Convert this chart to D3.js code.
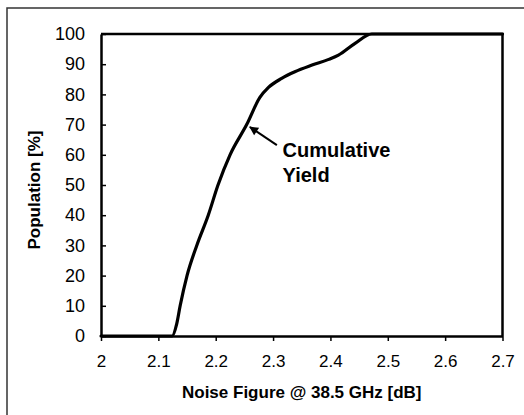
<!DOCTYPE html>
<html>
<head>
<meta charset="utf-8">
<script src="https://cdn.jsdelivr.net/npm/d3@7"></script>
<style>
  html, body { margin: 0; padding: 0; background: #fff; }
  svg { display: block; font-family: "Liberation Sans", Arial, Helvetica, sans-serif; }
</style>
</head>
<body>
<svg id="chart" width="524" height="415"></svg>
<script>
// ---- data ----
const noiseFigure = [2.0, 2.124, 2.132, 2.138, 2.150, 2.167, 2.187, 2.204, 2.225, 2.254, 2.277, 2.292, 2.315, 2.338, 2.368, 2.397, 2.414, 2.443, 2.472, 2.7];
const population  = [0,   0,     4,     10,    20,    30,    40,    50,    60,    70,    79,    82.3,  85.3,  87.5,  89.7,  91.6,  93.0,  96.9,  100,   100];
const xTicks = [2, 2.1, 2.2, 2.3, 2.4, 2.5, 2.6, 2.7];
const yTicks = [0, 10, 20, 30, 40, 50, 60, 70, 80, 90, 100];
const xTitle = "Noise Figure @ 38.5 GHz [dB]";
const yTitle = "Population [%]";
const annoLines = ["Cumulative", "Yield"];
const annoText = [2.3166, 59.3];     // text anchor (data units)
const annoArrowTip = [2.2596, 69.2];  // arrow tip (data units)
const annoArrowTail = [2.3066, 63.2]; // arrow tail (data units)

// ---- layout ----
const svg = d3.select("#chart");
const W = 524, H = 415;
const plot = { left: 101, right: 502.5, top: 34, bottom: 336 };

// outer frame (only left & top visible in the crop)
svg.append("rect")
  .attr("x", 7).attr("y", 8)
  .attr("width", W + 20).attr("height", H + 20)
  .attr("fill", "none").attr("stroke", "#333").attr("stroke-width", 1.5);

const x = d3.scaleLinear().domain([2, 2.7]).range([plot.left, plot.right]);
const y = d3.scaleLinear().domain([0, 100]).range([plot.bottom, plot.top]);

// plot box top & right
svg.append("path")
  .attr("d", `M${x(2)},${y(100)}H${x(2.7)}V${y(0)}`)
  .attr("fill", "none").attr("stroke", "#000").attr("stroke-width", 2.5);

// axes
const yAxis = svg.append("g")
  .attr("transform", `translate(${plot.left},0)`)
  .call(d3.axisLeft(y).tickValues(yTicks).tickSizeInner(-5).tickSizeOuter(0).tickPadding(16).tickFormat(d3.format("d")));
yAxis.select(".domain").attr("stroke", "#000").attr("stroke-width", 2.5);
yAxis.selectAll(".tick line").attr("stroke", "#000").attr("stroke-width", 1.5);
yAxis.selectAll(".tick text").attr("font-size", 18).attr("fill", "#000")
  .attr("font-family", "'Liberation Sans', Arial, sans-serif");

const xAxis = svg.append("g")
  .attr("transform", `translate(0,${plot.bottom})`)
  .call(d3.axisBottom(x).tickValues(xTicks).tickSizeInner(5).tickSizeOuter(0).tickPadding(14).tickFormat(d => d3.format("")(+d.toFixed(1))));
xAxis.select(".domain").attr("stroke", "#000").attr("stroke-width", 2.5);
xAxis.selectAll(".tick line").attr("stroke", "#000").attr("stroke-width", 1.5);
xAxis.selectAll(".tick text").attr("font-size", 17).attr("fill", "#000")
  .attr("font-family", "'Liberation Sans', Arial, sans-serif");

// axis titles
svg.append("text")
  .attr("x", (plot.left + plot.right) / 2)
  .attr("y", 398)
  .attr("text-anchor", "middle")
  .attr("font-size", 17).attr("font-weight", "bold")
  .text(xTitle);

svg.append("text")
  .attr("transform", `translate(40,${(plot.top + plot.bottom) / 2 + 5}) rotate(-90)`)
  .attr("text-anchor", "middle")
  .attr("font-size", 17).attr("font-weight", "bold")
  .text(yTitle);

// curve
const pts = noiseFigure.map((v, i) => [v, population[i]]);
const line = d3.line().x(d => x(d[0])).y(d => y(d[1])).curve(d3.curveMonotoneX);
svg.append("path")
  .datum(pts)
  .attr("d", line)
  .attr("fill", "none").attr("stroke", "#000").attr("stroke-width", 3.2)
  .attr("stroke-linejoin", "round").attr("stroke-linecap", "round");

// annotation arrow
svg.append("defs").append("marker")
  .attr("id", "arrow")
  .attr("viewBox", "0 0 10 10")
  .attr("refX", 9).attr("refY", 5)
  .attr("markerWidth", 11).attr("markerHeight", 9)
  .attr("markerUnits", "userSpaceOnUse")
  .attr("orient", "auto")
  .append("path").attr("d", "M0,0L10,5L0,10Z").attr("fill", "#000");

svg.append("line")
  .attr("x1", x(annoArrowTail[0])).attr("y1", y(annoArrowTail[1]))
  .attr("x2", x(annoArrowTip[0])).attr("y2", y(annoArrowTip[1]))
  .attr("stroke", "#000").attr("stroke-width", 2)
  .attr("marker-end", "url(#arrow)");

const at = svg.append("text")
  .attr("x", x(annoText[0])).attr("y", y(annoText[1]))
  .attr("font-size", 20).attr("font-weight", "bold");
annoLines.forEach((t, i) => {
  at.append("tspan").attr("x", x(annoText[0])).attr("dy", i === 0 ? 0 : 25).text(t);
});
</script>
</body>
</html>
